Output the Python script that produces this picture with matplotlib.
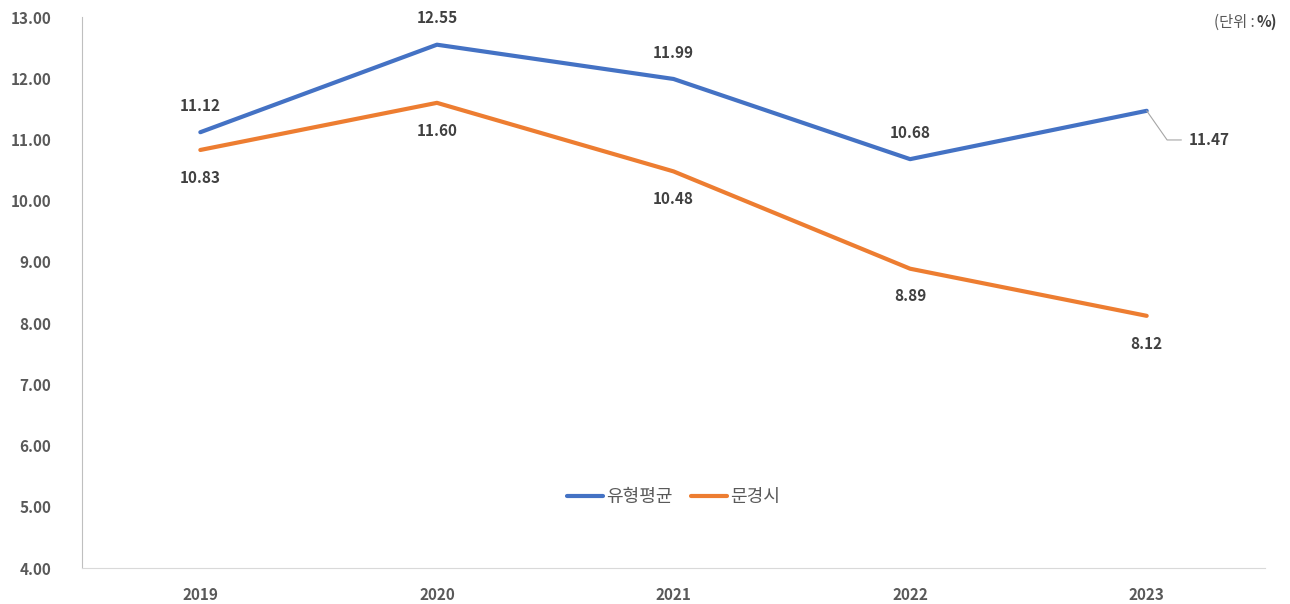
import numpy as np
import matplotlib.pyplot as plt

plt.rcParams['font.family'] = ['Noto Sans CJK KR', 'DejaVu Sans']

years = ['2019', '2020', '2021', '2022', '2023']
avg_vals = [11.12, 12.55, 11.99, 10.68, 11.47]
mg_vals = [10.83, 11.60, 10.48, 8.89, 8.12]

blue = '#4472c4'
orange = '#ed7d31'
txt = '#404040'

fig = plt.figure(figsize=(12.9, 6.04), dpi=100)
ax = fig.add_axes([0.0636, 0.0596, 0.917, 0.912])
x = np.arange(len(years))

ax.plot(x, avg_vals, color=blue, lw=3, label='유형평균', solid_capstyle='round')
ax.plot(x, mg_vals, color=orange, lw=3, label='문경시', solid_capstyle='round')

# data labels
for i, v in enumerate(avg_vals):
    if i == len(avg_vals) - 1:
        continue
    ax.annotate(f'{v:.2f}', (x[i], v), xytext=(0, 19), textcoords='offset points',
                ha='center', va='center', fontsize=11, fontweight='bold', color=txt)
for i, v in enumerate(mg_vals):
    ax.annotate(f'{v:.2f}', (x[i], v), xytext=(0, -20), textcoords='offset points',
                ha='center', va='center', fontsize=11, fontweight='bold', color=txt)

# last blue label with leader line
ax.annotate(f'{avg_vals[-1]:.2f}', (x[-1], avg_vals[-1]), xytext=(30, -21),
            textcoords='offset points', ha='left', va='center', fontsize=11,
            fontweight='bold', color=txt,
            arrowprops=dict(arrowstyle='-', color='#a6a6a6', lw=0.8,
                            connectionstyle='angle,angleA=0,angleB=-55,rad=0',
                            shrinkA=3, shrinkB=0))

ax.set_xlim(-0.5, 4.5)
ax.set_ylim(4, 13)
ax.set_xticks(x)
ax.set_xticklabels(years)
ax.set_yticks(np.arange(4, 13.5, 1))
ax.set_yticklabels([f'{t:.2f}' for t in np.arange(4, 13.5, 1)])
ax.tick_params(length=0, labelsize=11, labelcolor='#595959', pad=14)
for lab in ax.get_xticklabels() + ax.get_yticklabels():
    lab.set_fontweight('bold')
ax.tick_params(axis='y', pad=22)

for s in ['top', 'right']:
    ax.spines[s].set_visible(False)
ax.spines['left'].set_color('#bfbfbf')
ax.spines['bottom'].set_color('#d9d9d9')

leg = ax.legend(loc='center', bbox_to_anchor=(0.5, 0.129), ncol=2, frameon=False,
                fontsize=13, handlelength=2.0, columnspacing=1.0, handletextpad=0.2)
for t in leg.get_texts():
    t.set_color('#595959')

fig.text(0.99, 0.963, '%)', ha='right', va='center', fontsize=11,
         fontweight='bold', color='#404040')
fig.text(0.973, 0.963, '(단위 :', ha='right', va='center', fontsize=11,
         color='#595959')

fig.savefig('out.png', dpi=100)
